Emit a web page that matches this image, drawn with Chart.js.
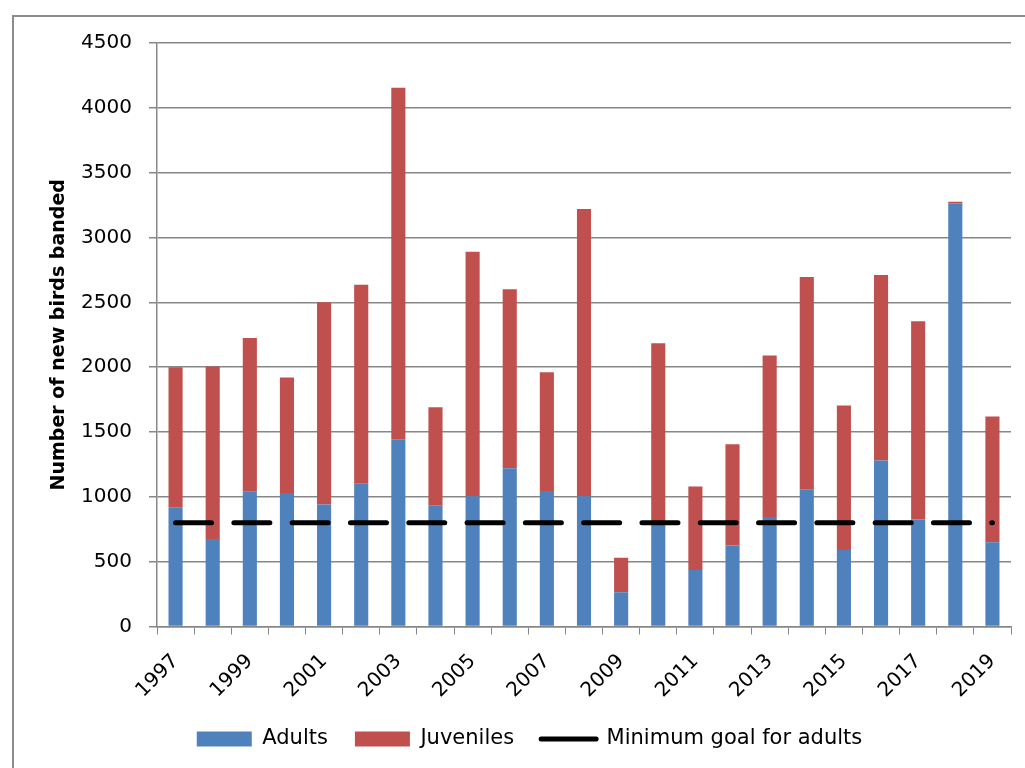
<!DOCTYPE html>
<html>
<head>
<meta charset="utf-8">
<script src="https://cdn.jsdelivr.net/npm/chart.js@4/dist/chart.umd.min.js"></script>
<style>
  body { margin: 0; overflow: hidden; background: #fff; }
  #wrap { position: relative; width: 1025px; height: 768px; }
  #frame { position: absolute; left: 12px; top: 15px; width: 1100px; height: 800px;
           border: 2px solid #8c8c8c; pointer-events: none; }
</style>
</head>
<body>
<div id="wrap">
  <canvas id="barChart" width="1025" height="768"></canvas>
  <div id="frame"></div>
</div>
<script>
const years = ['1997', '1998', '1999', '2000', '2001', '2002', '2003', '2004', '2005', '2006', '2007', '2008',
               '2009', '2010', '2011', '2012', '2013', '2014', '2015', '2016', '2017', '2018', '2019'];
const adults = [920, 675, 1040, 1030, 940, 1100, 1445, 935, 1005, 1220, 1045, 1005,
                265, 790, 435, 625, 845, 1055, 590, 1280, 825, 3265, 650];
const juveniles = [1080, 1330, 1185, 890, 1560, 1535, 2710, 755, 1885, 1380, 915, 2215,
                   265, 1395, 645, 780, 1245, 1640, 1115, 1430, 1530, 10, 970];
const goal = [800, 800, 800, 800, 800, 800, 800, 800, 800, 800, 800, 800,
              800, 800, 800, 800, 800, 800, 800, 800, 800, 800, 800];

const font = 'DejaVu Sans';
const gridColor = '#878787';

const ctx = document.getElementById('barChart').getContext('2d');

const data = {
    labels: years,
    datasets: [
    {
        label: 'Adults',
        data: adults,
        backgroundColor: '#4F81BD',
        stack: 'birds',
        order: 1,
        pointStyle: 'rect',
        categoryPercentage: 1,
        barPercentage: 0.38
    },
    {
        label: 'Juveniles',
        data: juveniles,
        backgroundColor: '#C0504D',
        stack: 'birds',
        order: 1,
        pointStyle: 'rect',
        categoryPercentage: 1,
        barPercentage: 0.38
    },
    {
        type: 'line',
        label: 'Minimum goal for adults',
        data: goal,
        borderColor: '#000',
        backgroundColor: '#000',
        borderWidth: 5,
        borderDash: [36, 22.3],
        borderCapStyle: 'round',
        pointRadius: 0,
        pointStyle: 'line',
        stack: 'goal',
        order: 0
    }]
}

const barChart = new Chart(ctx, {
    type: 'bar',
    data: data,
    options: {
        responsive: false,
        animation: false,
        layout: {
            padding: { left: 48, right: 14, top: 43, bottom: 8.5 }
        },
        plugins: {
            tooltip: { enabled: false },
            legend: {
                position: 'bottom',
                labels: {
                    usePointStyle: true,
                    pointStyleWidth: 55,
                    boxHeight: 15,
                    padding: 27,
                    color: '#000',
                    font: { family: font, size: 21 },
                    sort: (a, b) => a.datasetIndex - b.datasetIndex,
                    generateLabels(chart) {
                        const items = Chart.defaults.plugins.legend.labels.generateLabels(chart);
                        items.forEach(item => {
                            if (item.datasetIndex === 2) {
                                item.lineDash = [];
                                item.lineCap = 'round';
                                item.lineWidth = 5;
                            }
                        });
                        return items;
                    }
                }
            }
        },
        scales: {
            x: {
                stacked: true,
                afterFit: scale => { scale.height = 75; },
                grid: {
                    drawOnChartArea: false,
                    tickLength: 8,
                    color: gridColor
                },
                border: { color: gridColor, width: 1.5 },
                ticks: {
                    autoSkip: false,
                    minRotation: 45,
                    maxRotation: 45,
                    padding: 15,
                    color: '#000',
                    font: { family: font, size: 20 },
                    callback: function(value, index) {
                        return index % 2 === 0 ? this.getLabelForValue(value) : '';
                    }
                }
            },
            y: {
                stacked: true,
                min: 0,
                max: 4500,
                afterFit: scale => { scale.width = 109; },
                grid: {
                    tickLength: 8,
                    color: gridColor,
                    lineWidth: 1.5
                },
                border: { color: gridColor, width: 1.5 },
                ticks: {
                    stepSize: 500,
                    padding: 17,
                    color: '#000',
                    font: { family: font, size: 20 },
                    callback: value => String(value)
                },
                title: {
                    display: true,
                    text: 'Number of new birds banded',
                    color: '#000',
                    padding: { top: 0, bottom: 0 },
                    font: { family: font, size: 19, weight: 'bold' }
                }
            }
        }
    }
});
</script>
</body>
</html>
